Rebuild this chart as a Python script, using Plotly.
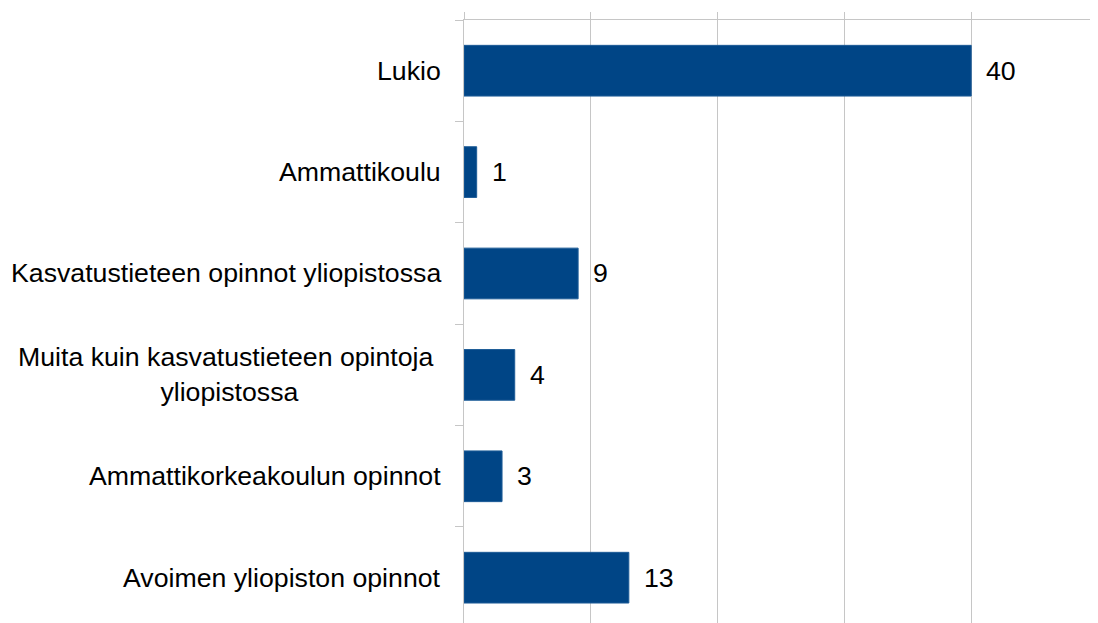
import plotly.graph_objects as go

categories = [
    "Lukio",
    "Ammattikoulu",
    "Kasvatustieteen opinnot yliopistossa",
    "Muita kuin kasvatustieteen opintoja<br>yliopistossa",
    "Ammattikorkeakoulun opinnot",
    "Avoimen yliopiston opinnot",
]
values = [40, 1, 9, 4, 3, 13]

FONT = "Liberation Sans, Arial, sans-serif"
FS = 26.7
BAR = "#004586"
GRID = "#c6c6c6"

fig = go.Figure()
fig.add_trace(go.Bar(
    x=values, y=categories, orientation="h",
    marker=dict(color=BAR, line=dict(color="#1d5c97", width=1)),
    width=0.5, hoverinfo="x+y",
))

annotations = []
for c, v in zip(categories, values):
    annotations.append(dict(
        x=v, y=c, xref="x", yref="y", text=str(v), showarrow=False,
        xanchor="left", yanchor="middle", xshift=13,
        font=dict(family=FONT, size=FS, color="#000000"),
    ))
    annotations.append(dict(
        x=0, y=c, xref="paper", yref="y",
        text=c.replace("<br>", "\u00a0<br>"), showarrow=False,
        xanchor="right", yanchor="middle", xshift=-21, align="center",
        font=dict(family=FONT, size=FS, color="#000000"),
    ))

fig.update_layout(
    width=1090, height=615,
    margin=dict(l=456, r=0, t=12, b=0),
    paper_bgcolor="white", plot_bgcolor="white",
    showlegend=False,
    bargap=0.5,
    annotations=annotations,
    xaxis=dict(
        side="top", range=[0, 50], dtick=10,
        showgrid=True, gridcolor=GRID, gridwidth=1,
        showline=True, linecolor=GRID, linewidth=1,
        ticks="outside", ticklen=7, tickcolor=GRID,
        showticklabels=False, zeroline=False,
    ),
    yaxis=dict(
        type="category", range=[5.447, -0.5],
        showgrid=False, showline=True, linecolor=GRID, linewidth=1,
        ticks="outside", ticklen=8, tickcolor=GRID, tickson="boundaries",
        showticklabels=False, zeroline=False,
    ),
)

fig.write_html("out.html")
